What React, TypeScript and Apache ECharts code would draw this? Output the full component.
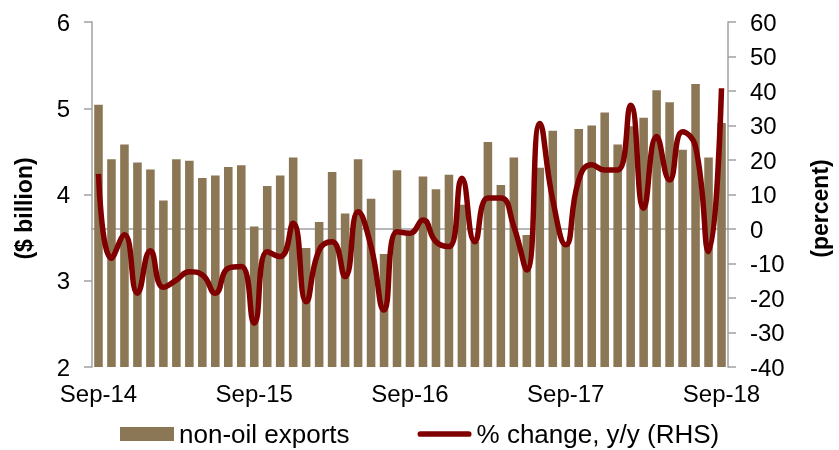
import React, { useEffect, useRef } from "react";
import * as echarts from "echarts";

const categories = [
  "Sep-14", "Oct-14", "Nov-14", "Dec-14", "Jan-15", "Feb-15", "Mar-15", "Apr-15", "May-15", "Jun-15", "Jul-15", "Aug-15",
  "Sep-15", "Oct-15", "Nov-15", "Dec-15", "Jan-16", "Feb-16", "Mar-16", "Apr-16", "May-16", "Jun-16", "Jul-16", "Aug-16",
  "Sep-16", "Oct-16", "Nov-16", "Dec-16", "Jan-17", "Feb-17", "Mar-17", "Apr-17", "May-17", "Jun-17", "Jul-17", "Aug-17",
  "Sep-17", "Oct-17", "Nov-17", "Dec-17", "Jan-18", "Feb-18", "Mar-18", "Apr-18", "May-18", "Jun-18", "Jul-18", "Aug-18",
  "Sep-18",
];

const nonOilExports = [
  5.04, 4.41, 4.58, 4.37, 4.29, 3.93, 4.41, 4.39, 4.19, 4.22,
  4.32, 4.34, 3.63, 4.10, 4.22, 4.43, 3.38, 3.68, 4.26, 3.78,
  4.41, 3.95, 3.31, 4.28, 3.57, 4.21, 4.06, 4.23, 3.88, 3.45,
  4.61, 4.11, 4.43, 3.53, 4.31, 4.74, 3.42, 4.76, 4.80, 4.95,
  4.58, 4.79, 4.89, 5.21, 5.07, 4.52, 5.28, 4.43, 4.83,
];

const pctChange = [
  16, -8.5, -1.7, -18.6, -6.3, -16.9, -14.8, -12.4, -13.3, -18.6,
  -11.4, -10.9, -27.3, -6.6, -8, 1.7, -21.1, -6.1, -3.7, -13.8,
  5, -5.1, -23.5, -0.8, -1.2, 2.6, -3.7, -5.1, 14.7, -3.7,
  9, 9, 0.7, -11.9, 30.6, 8.4, -4.6, 14.2, 18.6, 17.1,
  17.1, 35.9, 6, 26.8, 14.2, 28.2, 23.9, -6.6, 40.8,
];

const FONT = "'Liberation Sans', Arial, sans-serif";
const AXIS_GREY = "#a0a0a0";
const LINE_ICON = "path://M3,0 L54,0 A3,3 0 0 1 54,6 L3,6 A3,3 0 0 1 3,0 Z";

export default function App() {
  const ref = useRef<HTMLDivElement>(null);
  useEffect(() => {
    if (!ref.current) return;
    const chart = echarts.init(ref.current, null, { renderer: "svg" });
    chart.setOption({
      animation: false,
      textStyle: { fontFamily: FONT },
      grid: { left: 92, right: 110, top: 22, height: 345 },
      legend: {
        left: 120,
        top: 421,
        padding: 0,
        itemGap: 68,
        itemWidth: 54,
        itemHeight: 14,
        itemStyle: { borderWidth: 0 },
        textStyle: { fontSize: 26, color: "#000", fontFamily: FONT },
        data: [
          { name: "non-oil exports", icon: "rect" },
          { name: "% change, y/y (RHS)", icon: LINE_ICON },
        ],
      },
      xAxis: {
        type: "category",
        data: categories,
        axisLine: { lineStyle: { color: AXIS_GREY, width: 1.5 } },
        axisTick: { show: false },
        axisLabel: {
          interval: 11,
          fontSize: 24,
          color: "#000",
          margin: 14,
          fontFamily: FONT,
        },
      },
      yAxis: [
        {
          type: "value",
          min: 2,
          max: 6,
          interval: 1,
          name: "($ billion)",
          nameLocation: "middle",
          nameRotate: 90,
          nameGap: 57,
          nameTextStyle: {
            fontSize: 23,
            fontWeight: "bold",
            color: "#000",
            fontFamily: FONT,
            padding: [0, 28, 0, 0],
          },
          splitLine: { show: false },
          axisLine: { show: true, lineStyle: { color: AXIS_GREY, width: 1.5 } },
          axisTick: { show: true, length: 8, lineStyle: { color: AXIS_GREY, width: 1.5 } },
          axisLabel: { fontSize: 24, color: "#000", margin: 22, fontFamily: FONT },
        },
        {
          type: "value",
          min: -40,
          max: 60,
          interval: 10,
          position: "right",
          name: "(percent)",
          nameLocation: "middle",
          nameRotate: 90,
          nameGap: 80,
          nameTextStyle: {
            fontSize: 23,
            fontWeight: "bold",
            color: "#000",
            fontFamily: FONT,
            padding: [0, 28, 0, 0],
          },
          splitLine: { show: false },
          axisLine: { show: true, lineStyle: { color: AXIS_GREY, width: 1.5 } },
          axisTick: { show: true, length: 8, lineStyle: { color: AXIS_GREY, width: 1.5 } },
          axisLabel: { fontSize: 24, color: "#000", margin: 22, fontFamily: FONT },
        },
      ],
      series: [
        {
          name: "non-oil exports",
          type: "bar",
          yAxisIndex: 0,
          data: nonOilExports,
          barWidth: "66%",
          itemStyle: { color: "#8b7755" },
        },
        {
          name: "% change, y/y (RHS)",
          type: "line",
          yAxisIndex: 1,
          data: pctChange,
          smooth: 0.5,
          symbol: "none",
          lineStyle: { color: "#800000", width: 5.5 },
          itemStyle: { color: "#800000" },
        },
      ],
    });
    return () => chart.dispose();
  }, []);
  return (
    <div
      ref={ref}
      style={{ position: "fixed", left: 0, top: 0, width: 839, height: 450 }}
    />
  );
}
